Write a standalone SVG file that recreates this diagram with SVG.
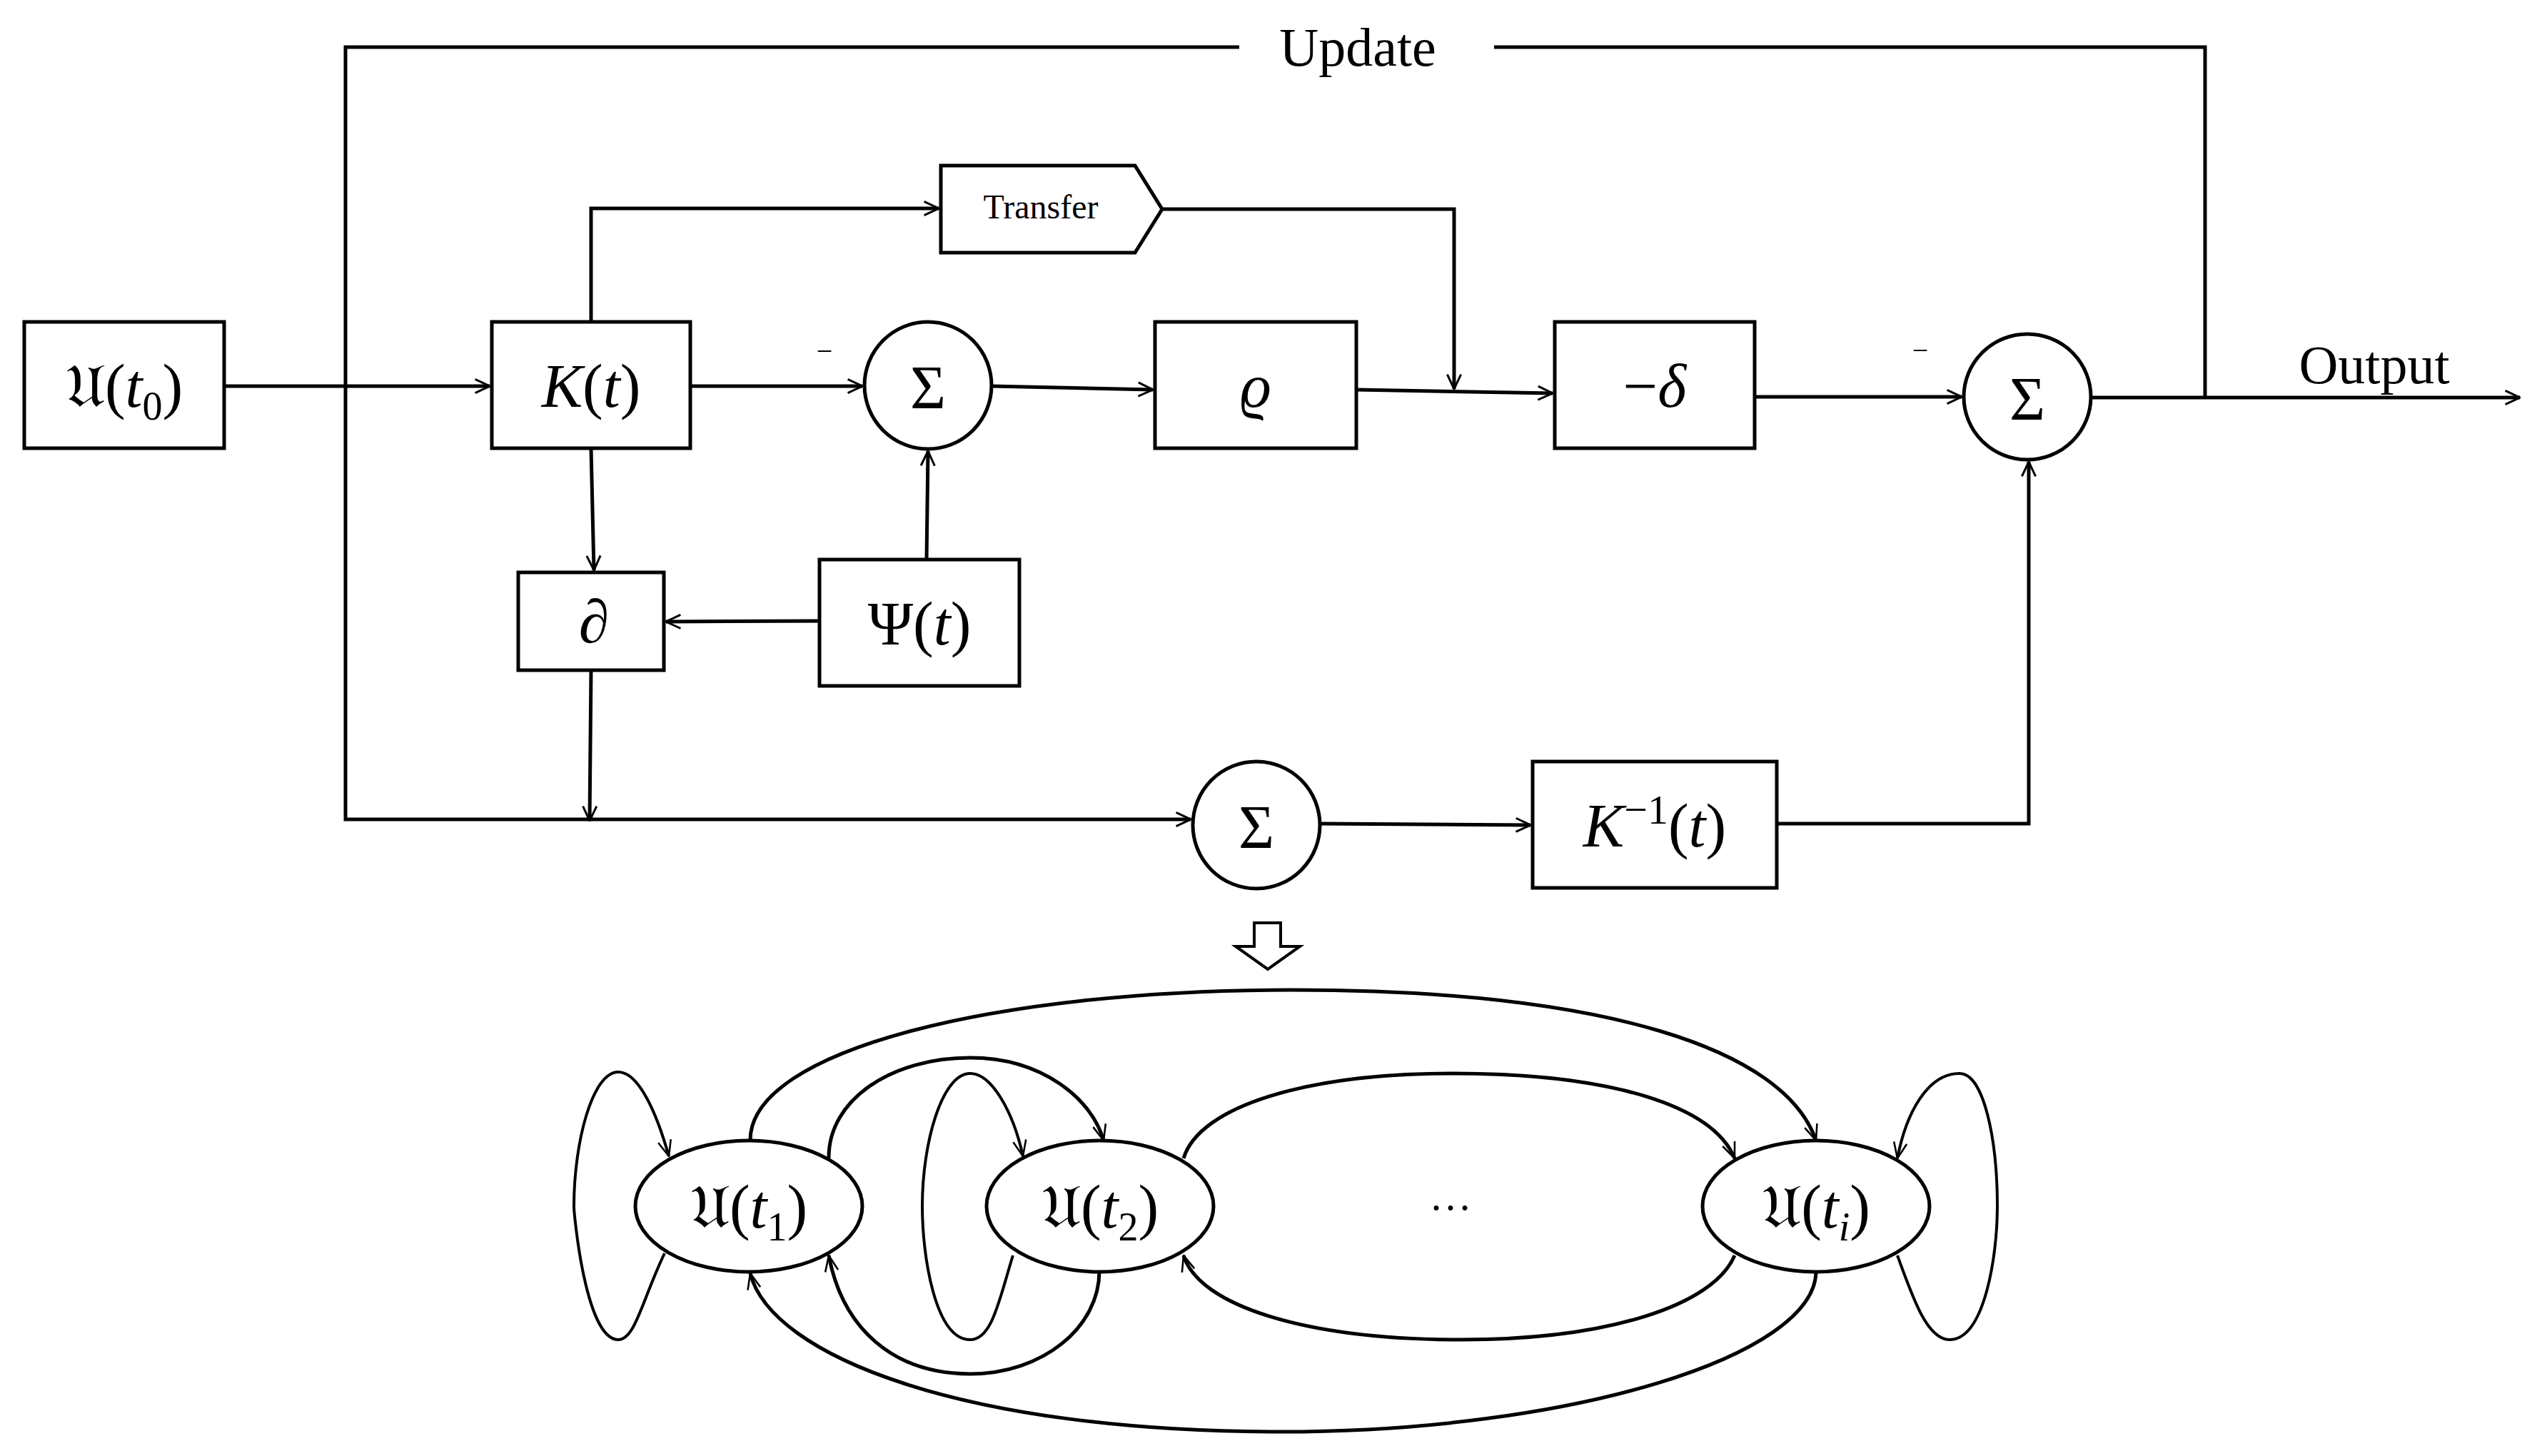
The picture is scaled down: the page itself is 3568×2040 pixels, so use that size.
<svg xmlns="http://www.w3.org/2000/svg" width="3568" height="2040" viewBox="0 0 3568 2040">
<style>
.b{fill:#fff;stroke:#000;stroke-width:5}
.l{fill:none;stroke:#000;stroke-width:5}
.m{font-family:"Liberation Serif","DejaVu Serif",serif;font-size:86px;text-anchor:middle}
.i{font-style:italic}
.t{font-family:"Liberation Serif",serif;text-anchor:middle}
</style>
<defs>
<marker id="a" viewBox="0 0 20 20" refX="19" refY="10" markerWidth="24" markerHeight="24" markerUnits="userSpaceOnUse" orient="auto"><path d="M2,2 L19,10 L2,18" fill="none" stroke="#000" stroke-width="2.5"/></marker>
<marker id="s" viewBox="0 0 20 20" refX="19" refY="10" markerWidth="26" markerHeight="26" markerUnits="userSpaceOnUse" orient="auto"><path d="M2,3 L19,10 L2,17" fill="none" stroke="#000" stroke-width="2"/></marker>
</defs>
<g id="connectors">
<path class="l" d="M314,541 H686" marker-end="url(#a)"/>
<path class="l" d="M1736,66 H484 V1148 H1668" marker-end="url(#a)"/>
<path class="l" d="M2093,66 H3089 V557"/>
<path class="l" d="M828,451 V292 H1315" marker-end="url(#a)"/>
<path class="l" d="M1628,293 H2037 V545" marker-end="url(#a)"/>
<path class="l" d="M967,541 H1208" marker-end="url(#a)"/>
<path class="l" d="M1389,541 L1615,546" marker-end="url(#a)"/>
<path class="l" d="M1900,546 L2175,551" marker-end="url(#a)"/>
<path class="l" d="M2458,556 H2748" marker-end="url(#a)"/>
<path class="l" d="M2929,557 H3530" marker-end="url(#a)"/>
<path class="l" d="M1298,784 L1300,632" marker-end="url(#a)"/>
<path class="l" d="M828,628 L832,799" marker-end="url(#a)"/>
<path class="l" d="M1148,870 L933,871" marker-end="url(#a)"/>
<path class="l" d="M828,939 L826,1150" marker-end="url(#a)"/>
<path class="l" d="M1849,1154 L2144,1156" marker-end="url(#a)"/>
<path class="l" d="M2489,1154 H2842 V647" marker-end="url(#a)"/>
<path d="M1757,1293 H1794 V1326 H1821 L1776,1358 L1731,1326 H1757 Z" fill="#fff" stroke="#000" stroke-width="4"/>
<g class="l" style="stroke-width:4">
<path d="M931,1756 C900,1820 890,1877 866,1877 C820,1877 804,1700 804,1690 C804,1600 830,1502 866,1502 C895,1502 920,1560 937,1620" marker-end="url(#s)"/>
<path d="M1419,1759 C1400,1820 1390,1877 1359,1877 C1310,1877 1292,1760 1292,1690 C1292,1600 1320,1504 1359,1504 C1390,1504 1420,1560 1433,1620" marker-end="url(#s)"/>
<path d="M2658,1759 C2680,1820 2700,1877 2731,1877 C2780,1877 2798,1760 2798,1690 C2798,1600 2780,1504 2745,1504 C2700,1504 2670,1560 2658,1623" marker-end="url(#s)"/>
<path d="M1161,1623 C1160,1540 1250,1482 1359,1482 C1460,1482 1530,1540 1546,1598" marker-end="url(#s)" style="stroke-width:5"/>
<path d="M1051,1598 C1050,1470 1400,1387 1808,1387 C2250,1387 2500,1470 2544,1598" marker-end="url(#s)" style="stroke-width:5"/>
<path d="M1658,1623 C1680,1550 1830,1504 2035,1504 C2260,1504 2400,1550 2430,1623" marker-end="url(#s)" style="stroke-width:5"/>
<path d="M2430,1759 C2400,1830 2250,1877 2048,1877 C1830,1877 1680,1830 1658,1759" marker-end="url(#s)" style="stroke-width:5"/>
<path d="M1540,1781 C1540,1860 1460,1925 1359,1925 C1250,1925 1180,1860 1161,1759" marker-end="url(#s)" style="stroke-width:5"/>
<path d="M2544,1781 C2544,1900 2200,2006 1794,2006 C1350,2006 1080,1900 1051,1784" marker-end="url(#s)" style="stroke-width:5"/>
</g>
</g>
<g id="u0"><rect class="b" x="34" y="451" width="280" height="177"/><text class="m" x="174" y="570">𝔘(<tspan class="i">t</tspan><tspan font-size="56" dy="18">0</tspan><tspan dy="-18">)</tspan></text></g>
<g id="k"><rect class="b" x="689" y="451" width="278" height="177"/><text class="m" x="828" y="570"><tspan class="i">K</tspan>(<tspan class="i">t</tspan>)</text></g>
<g id="sum1"><circle class="b" cx="1300" cy="540" r="89"/><text class="m" x="1300" y="572">Σ</text></g>
<text class="t" x="1155" y="505" font-size="40">−</text>
<g id="rho"><rect class="b" x="1618" y="451" width="282" height="177"/><text class="m i" x="1759" y="570">ϱ</text></g>
<g id="delta"><rect class="b" x="2178" y="451" width="280" height="177"/><text class="m" x="2318" y="570">−<tspan class="i">δ</tspan></text></g>
<g id="sum2"><ellipse class="b" cx="2840" cy="556" rx="89" ry="88"/><text class="m" x="2840" y="588">Σ</text></g>
<text class="t" x="2690" y="504" font-size="40">−</text>
<g id="transfer"><path class="b" d="M1318,232 H1590 L1628,293 L1590,354 H1318 Z"/><text class="t" x="1458" y="306" font-size="48">Transfer</text></g>
<g id="psi"><rect class="b" x="1148" y="784" width="280" height="177"/><text class="m" x="1288" y="903">Ψ(<tspan class="i">t</tspan>)</text></g>
<g id="partial"><rect class="b" x="726" y="802" width="204" height="137"/><text class="m i" x="832" y="900">∂</text></g>
<g id="sum3"><circle class="b" cx="1760" cy="1156" r="89"/><text class="m" x="1760" y="1188">Σ</text></g>
<g id="kinv"><rect class="b" x="2147" y="1067" width="342" height="177"/><text class="m" x="2318" y="1186"><tspan class="i">K</tspan><tspan font-size="58" dy="-32">−1</tspan><tspan dy="32">(</tspan><tspan class="i">t</tspan>)</text></g>
<text class="t" x="1902" y="92" font-size="76">Update</text>
<text class="t" x="3326" y="537" font-size="76">Output</text>
<g id="t1"><ellipse class="b" cx="1049" cy="1690" rx="159" ry="92"/><text class="m" x="1049" y="1720">𝔘(<tspan class="i">t</tspan><tspan font-size="56" dy="18">1</tspan><tspan dy="-18">)</tspan></text></g>
<g id="t2"><ellipse class="b" cx="1541" cy="1690" rx="159" ry="92"/><text class="m" x="1541" y="1720">𝔘(<tspan class="i">t</tspan><tspan font-size="56" dy="18">2</tspan><tspan dy="-18">)</tspan></text></g>
<g id="ti"><ellipse class="b" cx="2544" cy="1690" rx="159" ry="92"/><text class="m" x="2544" y="1720">𝔘(<tspan class="i">t</tspan><tspan font-size="56" dy="18" class="i">i</tspan><tspan dy="-18">)</tspan></text></g>
<text class="t" x="2032" y="1712" font-size="60">···</text>
</svg>
